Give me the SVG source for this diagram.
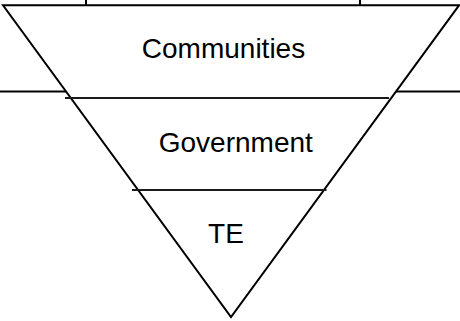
<svg xmlns="http://www.w3.org/2000/svg" width="460" height="321" viewBox="0 0 460 321">
  <style>
    .ln { stroke: #000; stroke-width: 2; fill: none; }
    .sep { stroke: #1a1a1a; stroke-width: 2; fill: none; }
    .lbl { font-family: "Liberation Sans", Arial, sans-serif; font-size: 28px; fill: #000; text-anchor: middle; }
  </style>
  <rect width="460" height="321" fill="#fff"/>
  <g id="connectors">
    <line class="ln" x1="86" y1="0" x2="86" y2="5.3"/>
    <line class="ln" x1="360" y1="0" x2="360" y2="5.3"/>
    <line class="ln" x1="0" y1="91.5" x2="460" y2="91.5"/>
  </g>
  <g id="pyramid">
    <polygon points="3,5.3 459,5.3 231,317" fill="#fff" stroke="#000" stroke-width="2" stroke-linejoin="miter"/>
  </g>
  <g id="communities">
    <text class="lbl" x="223.5" y="58.3">Communities</text>
  </g>
  <g id="government">
    <line class="sep" x1="65" y1="98" x2="389" y2="98"/>
    <text class="lbl" x="235.8" y="152.3">Government</text>
  </g>
  <g id="te">
    <line class="sep" x1="132" y1="190" x2="326.5" y2="190"/>
    <text class="lbl" x="226" y="242.7">TE</text>
  </g>
</svg>
